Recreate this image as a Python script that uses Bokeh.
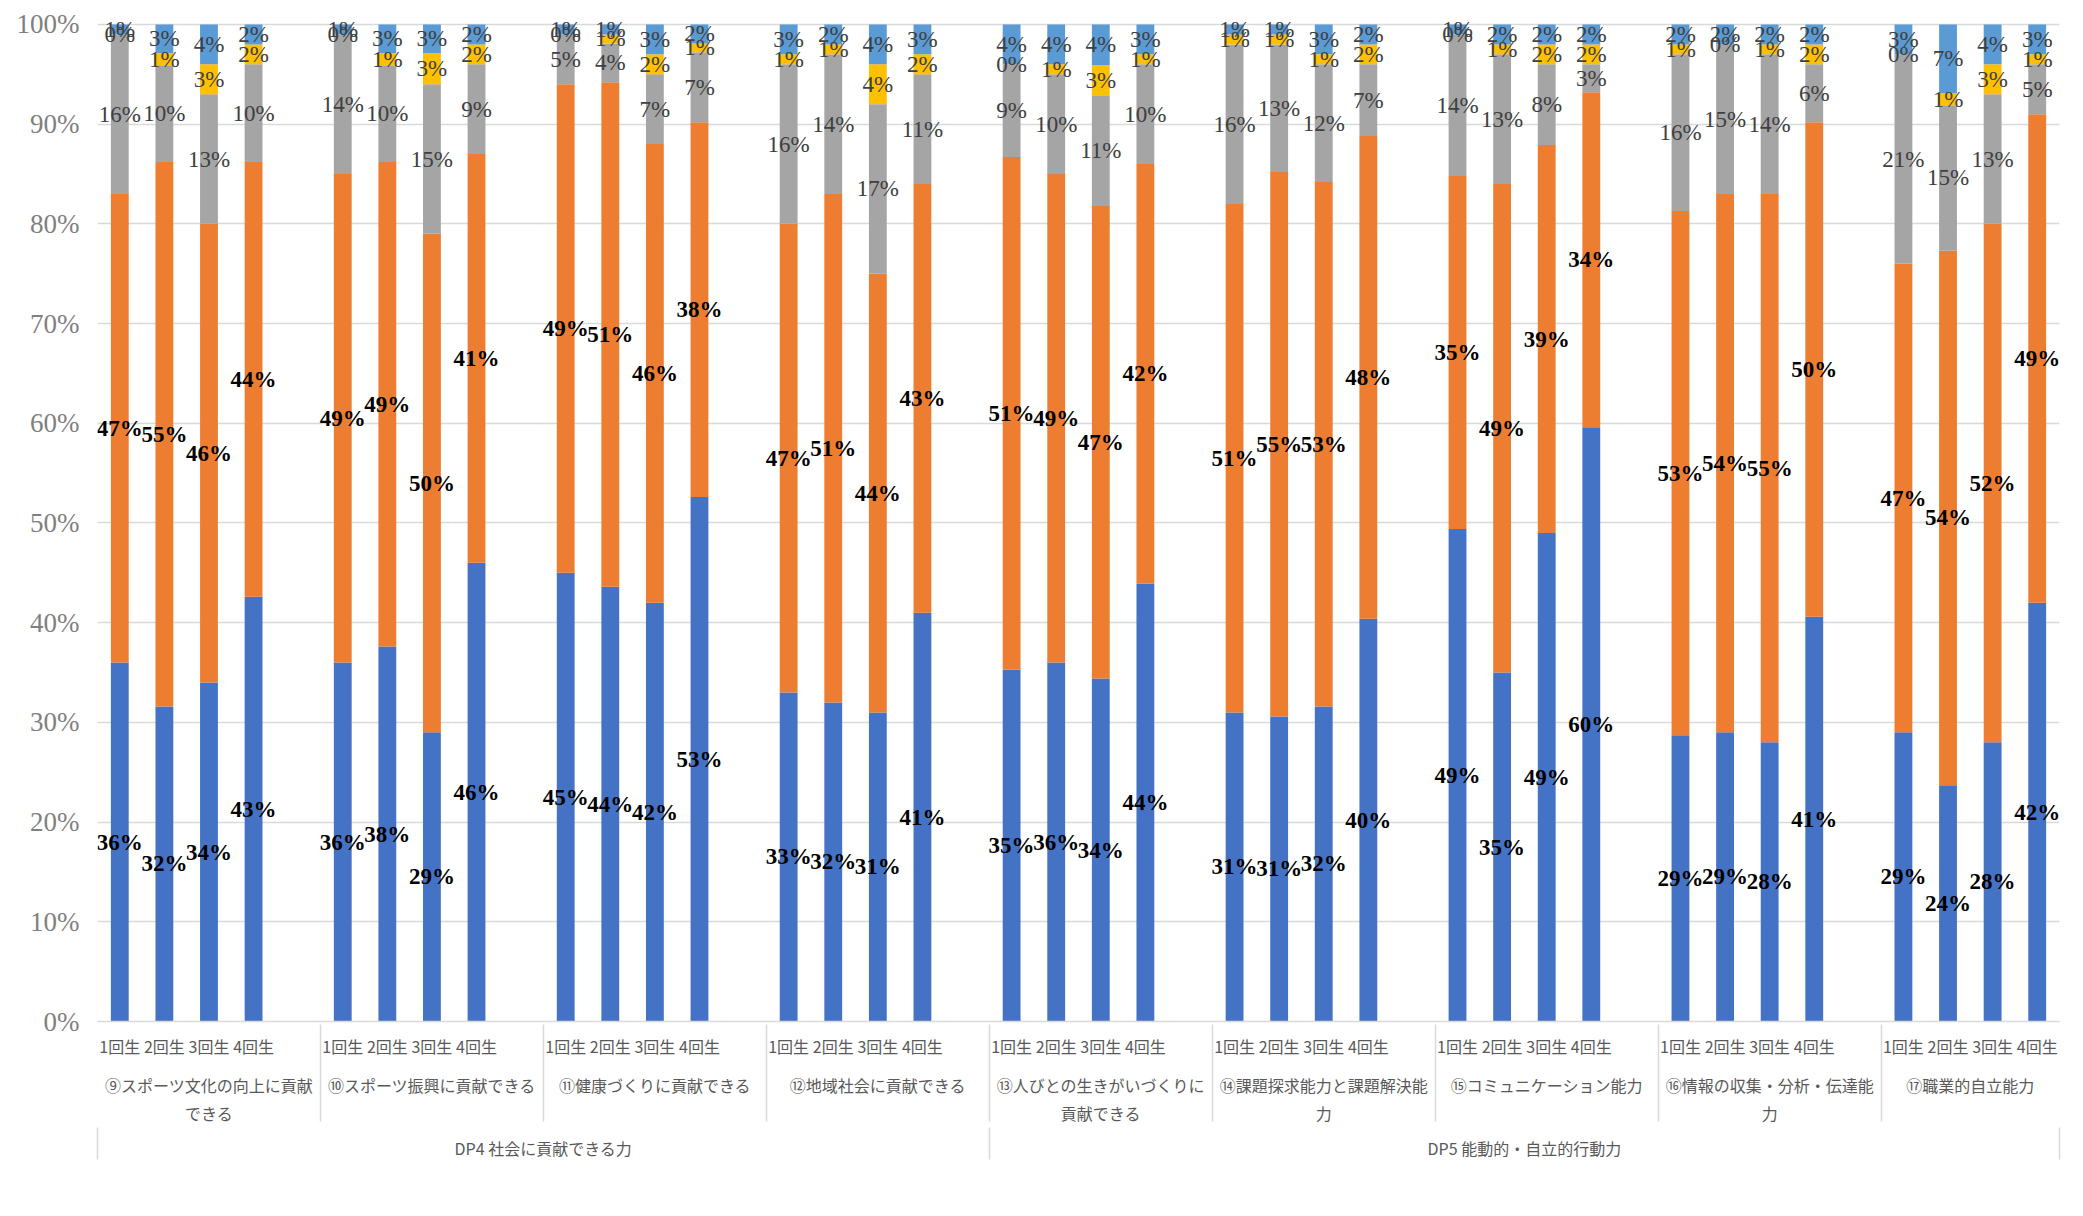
from bokeh.plotting import figure
from bokeh.models import (ColumnDataSource, FactorRange, Range1d, LinearAxis, Legend,
                          LegendItem, SingleIntervalTicker, PrintfTickFormatter, FixedTicker)
from bokeh.core.properties import value
from bokeh.embed import file_html
from bokeh.resources import INLINE

# ---------------- data ----------------
dp_names = ["DP4 社会に貢献できる力", "DP5 能動的・自立的行動力"]
items = [
    "⑨スポーツ文化の向上に貢献\nできる",
    "⑩スポーツ振興に貢献できる",
    "⑪健康づくりに貢献できる",
    "⑫地域社会に貢献できる",
    "⑬人びとの生きがいづくりに\n貢献できる",
    "⑭課題探求能力と課題解決能\n力",
    "⑮コミュニケーション能力",
    "⑯情報の収集・分析・伝達能\n力",
    "⑰職業的自立能力",
]
item_dp = [0, 0, 0, 0, 1, 1, 1, 1, 1]
years = ["1回生", "2回生", "3回生", "4回生"]

series_names = ["とても身についた実感がある", "少し身についた実感がある",
                "あまり身についた実感がない", "全く身についた実感がない", "わからない"]
colors = ["#4472C4", "#ED7D31", "#A5A5A5", "#FFC000", "#5B9BD5"]

very = [36.0, 31.6, 34.0, 42.6,  36.0, 37.6, 29.0, 46.0,  45.0, 43.6, 42.0, 52.6,
        33.0, 32.0, 31.0, 41.0,  35.3, 36.0, 34.4, 43.9,  31.0, 30.6, 31.6, 40.4,
        49.4, 35.0, 49.0, 59.6,  28.7, 29.0, 28.0, 40.6,  29.0, 23.7, 28.0, 42.0]
little = [47.0, 54.6, 46.0, 43.6,  49.0, 48.6, 50.0, 41.0,  49.0, 50.6, 46.0, 37.6,
          47.0, 51.0, 44.0, 43.0,  51.4, 49.0, 47.4, 42.1,  51.0, 54.6, 52.6, 48.4,
          35.4, 49.0, 38.9, 33.6,  52.6, 54.0, 55.0, 49.6,  47.0, 53.6, 52.0, 49.0]
hardly = [16.0, 9.7, 13.0, 9.8,  14.0, 9.7, 15.0, 9.0,  5.0, 3.9, 7.0, 7.0,
          16.0, 14.0, 17.0, 11.0,  9.3, 10.0, 11.1, 10.0,  16.0, 12.8, 11.8, 7.2,
          14.2, 13.0, 8.1, 2.8,  15.7, 15.0, 14.0, 5.8,  21.0, 14.6, 13.0, 5.0]
none_at_all = [0.0, 1.2, 3.0, 2.0,  0.0, 1.2, 3.1, 2.0,  0.0, 0.9, 2.0, 0.9,
               1.0, 1.0, 4.0, 2.0,  0.0, 1.0, 3.0, 1.0,  1.0, 1.0, 1.0, 2.0,
               0.0, 1.0, 2.0, 2.0,  1.0, 0.0, 1.0, 2.0,  0.0, 1.2, 3.0, 1.0]
unknown = [1.0, 2.9, 4.0, 2.0,  1.0, 2.9, 2.9, 2.0,  1.0, 1.0, 3.0, 1.9,
           3.0, 2.0, 4.0, 3.0,  4.0, 4.0, 4.1, 3.0,  1.0, 1.0, 3.0, 2.0,
           1.0, 2.0, 2.0, 2.0,  2.0, 2.0, 2.0, 2.0,  3.0, 6.9, 4.0, 3.0]

series = [very, little, hardly, none_at_all, unknown]
keys = ["s0", "s1", "s2", "s3", "s4"]

# ---------------- factors (one blank slot between items) ----------------
x_factors, bar_x, slot_dp = [], [], []
for i, item in enumerate(items):
    for yr in years:
        x_factors.append((item, yr))
        bar_x.append((item, yr))
        slot_dp.append(item_dp[i])
    if i < len(items) - 1:
        x_factors.append((item, " "))
        slot_dp.append(item_dp[i])
n_slots = len(x_factors)

# DP group spans in slot units (synthetic coordinates of the factor range)
dp_start, dp_center, pos = [], [], 0
for d in range(len(dp_names)):
    cnt = slot_dp.count(d)
    dp_start.append(pos)
    dp_center.append(pos + cnt / 2)
    pos += cnt
dp_bounds = dp_start + [n_slots]

x_range = FactorRange(*x_factors, factor_padding=0, group_padding=0, range_padding=0)

p = figure(x_range=x_range, y_range=Range1d(0, 101.6),
           frame_width=1962, frame_height=1013,
           min_border_left=97, min_border_right=24, min_border_top=8, min_border_bottom=0,
           output_backend="svg", toolbar_location=None)
p.outline_line_color = None
p.background_fill_color = "white"
p.border_fill_color = "white"

data = dict(x=bar_x)
for k, s in zip(keys, series):
    data[k] = s
src = ColumnDataSource(data)
rs = p.vbar_stack(keys, x="x", width=0.4, source=src, fill_color=colors, line_color=None)

# data labels
cum = [0.0] * len(bar_x)
for idx, s in enumerate(series):
    ys = [c + v / 2 for c, v in zip(cum, s)]
    cum = [c + v for c, v in zip(cum, s)]
    lsrc = ColumnDataSource(dict(x=bar_x, y=ys, t=[f"{round(v)}%" for v in s]))
    bold = idx < 2
    p.text(x="x", y="y", text="t", source=lsrc, text_align="center", text_baseline="middle",
           text_font=value("Liberation Serif"), text_font_size="23px",
           text_font_style="bold" if bold else "normal",
           text_color="#000000" if bold else "#404040")

# y axis
p.yaxis.ticker = SingleIntervalTicker(interval=10, num_minor_ticks=0)
p.ygrid.ticker = SingleIntervalTicker(interval=10, num_minor_ticks=0)
p.yaxis.formatter = PrintfTickFormatter(format="%d%%")
p.yaxis.axis_line_color = None
p.yaxis.major_tick_line_color = None
p.yaxis.minor_tick_line_color = None
p.yaxis.major_tick_out = 0
p.yaxis.major_label_standoff = 18
p.yaxis.major_label_text_font = "Liberation Serif"
p.yaxis.major_label_text_font_size = "27px"
p.yaxis.major_label_text_color = "#7f7f7f"
p.ygrid.grid_line_color = "#d9d9d9"
p.ygrid.grid_line_width = 1.5
p.xgrid.grid_line_color = None

# x axis (years + items)
xa = p.xaxis[0]
xa.axis_line_color = "#d9d9d9"
xa.axis_line_width = 1.5
xa.major_tick_line_color = None
xa.major_tick_out = 0
xa.major_label_standoff = 12
xa.major_label_text_font = "Noto Sans CJK JP"
xa.major_label_text_font_size = "16px"
xa.major_label_text_color = "#595959"
xa.group_text_font = "Noto Sans CJK JP"
xa.group_text_font_size = "16px"
xa.group_text_font_style = "normal"
xa.group_text_color = "#595959"
xa.group_text_line_height = 1.17
xa.separator_line_color = "#d9d9d9"
xa.separator_line_width = 1.5

# DP row: labels at group centres, dividers at group bounds
da = LinearAxis(ticker=FixedTicker(ticks=dp_center, minor_ticks=dp_bounds),
                major_label_overrides={float(c): n for c, n in zip(dp_center, dp_names)})
da.axis_line_color = None
da.major_tick_line_color = None
da.major_tick_out = 0
da.minor_tick_in = 0
da.minor_tick_out = 32
da.minor_tick_line_color = "#d9d9d9"
da.minor_tick_line_width = 1.5
da.major_label_standoff = -24
da.major_label_text_font = "Noto Sans CJK JP"
da.major_label_text_font_size = "16px"
da.major_label_text_color = "#595959"
p.add_layout(da, "below")

legend = Legend(items=[LegendItem(label=n, renderers=[r]) for n, r in zip(series_names, rs)],
                orientation="horizontal", location="center",
                label_text_font="Noto Sans CJK JP", label_text_font_size="22px",
                label_text_color="#595959", glyph_width=14, glyph_height=14,
                spacing=80, label_standoff=4, border_line_color=None,
                background_fill_alpha=0, padding=0, margin=0)
p.add_layout(legend, "below")

open("out.html", "w").write(file_html(p, INLINE))
